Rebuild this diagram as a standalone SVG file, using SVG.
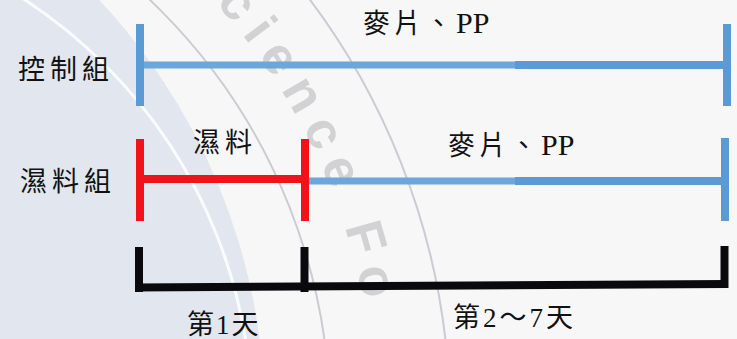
<svg xmlns="http://www.w3.org/2000/svg" width="737" height="339" viewBox="0 0 737 339">
<style>
.lbl{font-family:"Liberation Serif","Noto Sans CJK TC",serif;fill:#111;}
.blue{stroke:#5b9bd5;stroke-width:8;fill:none;}
.blueL{stroke:#6ba6dc;stroke-width:7;fill:none;}
.red{stroke:#f2121a;stroke-width:8;fill:none;}
.blk{stroke:#0a0a0e;stroke-width:8;fill:none;}
.arc{fill:none;stroke:#c9ccd3;stroke-width:2;}
.wm{font-family:"Liberation Sans",Arial,sans-serif;font-weight:bold;font-size:52px;letter-spacing:12px;fill:#d2d2d5;}
</style>
<defs>
<path id="wmArc" d="M62.5,-121.3 A625,625 0 0 1 291.3,732.5"/>
</defs>
<g id="background">
<rect x="0" y="0" width="737" height="339" fill="#f7f7f7"/>
<circle cx="-350" cy="420" r="615" fill="#e1e6ef"/>
<circle cx="-250" cy="420" r="502" fill="none" stroke="#ffffff" stroke-width="3" opacity="0.85"/>
<circle cx="-250" cy="420" r="580" class="arc"/>
<circle cx="-250" cy="420" r="700" class="arc"/>
<text class="wm"><textPath href="#wmArc" startOffset="151">Science Fo</textPath></text>
</g>
<g id="connectors">
<line class="blue" x1="140" y1="24" x2="140" y2="106"/>
<line class="blueL" x1="144" y1="65" x2="515" y2="65"/>
<line class="blue" x1="515" y1="65" x2="724" y2="65" stroke-width="7"/>
<line class="blue" x1="727" y1="24" x2="727" y2="106"/>
<line class="red" x1="140" y1="139" x2="140" y2="221"/>
<line class="red" x1="144" y1="179" x2="302" y2="179"/>
<line class="red" x1="305" y1="139" x2="305" y2="221"/>
<line class="blueL" x1="309" y1="181" x2="515" y2="181"/>
<line class="blue" x1="515" y1="181" x2="722" y2="181" stroke-width="7"/>
<line class="blue" x1="725" y1="138" x2="725" y2="221"/>
<line class="blk" x1="139" y1="247" x2="139" y2="292"/>
<line class="blk" x1="135" y1="287.5" x2="728" y2="284"/>
<line class="blk" x1="304.5" y1="247" x2="304.5" y2="292"/>
<line class="blk" x1="724.5" y1="246" x2="724.5" y2="288"/>
</g>
<g id="label-control">
<text class="lbl" x="18" y="79" font-size="27" letter-spacing="5">控制組</text>
</g>
<g id="label-wet">
<text class="lbl" x="20" y="191" font-size="27" letter-spacing="5">濕料組</text>
</g>
<g id="label-top-feed">
<text class="lbl" x="363" y="33"><tspan font-size="27" letter-spacing="4">麥片、</tspan><tspan font-size="30">PP</tspan></text>
</g>
<g id="label-wetfood">
<text class="lbl" x="193" y="152" font-size="27" letter-spacing="5">濕料</text>
</g>
<g id="label-wet-feed">
<text class="lbl" x="448" y="155"><tspan font-size="27" letter-spacing="4">麥片、</tspan><tspan font-size="30">PP</tspan></text>
</g>
<g id="label-day1">
<text class="lbl" x="187" y="334" font-size="27" letter-spacing="2">第1天</text>
</g>
<g id="label-day2-7">
<text class="lbl" x="453" y="327" font-size="27" letter-spacing="3">第2～7天</text>
</g>
</svg>
